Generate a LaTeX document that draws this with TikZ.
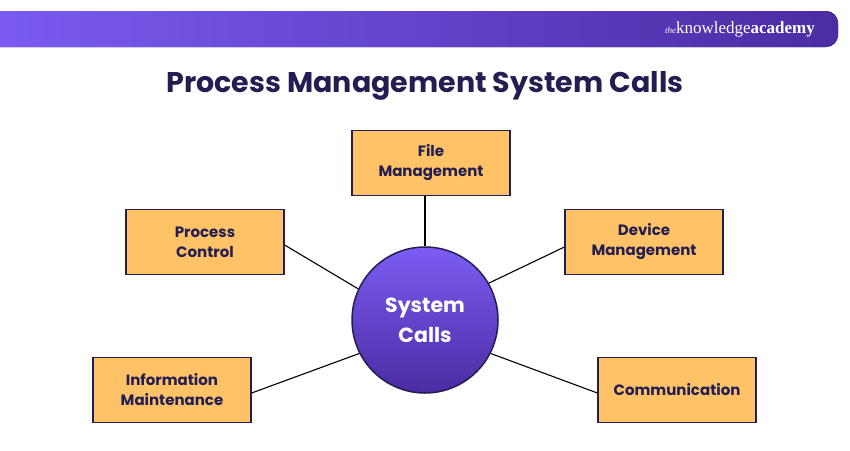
\documentclass[tikz,border=0pt]{standalone}
\usepackage{fontspec}
\setmainfont{Poppins}[BoldFont=* Bold]
\newfontfamily\logofont{Liberation Serif}
\definecolor{navy}{HTML}{231E52}
\definecolor{boxfill}{HTML}{FFC266}
\definecolor{pl}{HTML}{7C5CF2}
\definecolor{pd}{HTML}{4A2CA3}
\begin{document}
\begin{tikzpicture}[x=1pt,y=-1pt,
 box/.style={draw=navy,line width=1.2pt,fill=boxfill,minimum width=158pt,minimum height=65pt,align=center,font=\bfseries\fontsize{15}{20}\selectfont,text=navy},
 conn/.style={draw=black,line width=1.1pt}]
\useasboundingbox (0,0) rectangle (850,450);
\begin{scope}
\clip (0,0) rectangle (850,450);
\fill[left color=pl,right color=pd,rounded corners=12pt] (-20,11) rectangle (838,47);
\end{scope}
\node[text=white,anchor=east,inner sep=0pt] (logo) at (815,29) {\logofont{\itshape\fontsize{9}{9}\selectfont the}\fontsize{17}{17}\selectfont knowledge\textbf{academy}};
\node[text=navy,font=\bfseries\fontsize{28.5}{32}\selectfont] (title) at (425,86) {Process Management System Calls};
\node[circle,draw=navy,line width=1.5pt,minimum size=146pt,inner sep=0pt,top color=pl,bottom color=pd,text=white,align=center,font=\bfseries\fontsize{20.5}{30}\selectfont] (sc) at (425,320) {System\\Calls};
\node[box] (file) at (431,163) {File\\Management};
\node[box] (proc) at (205,242) {Process\\Control};
\node[box] (dev) at (644,242) {Device\\Management};
\node[box] (info) at (172,390) {Information\\Maintenance};
\node[box] (comm) at (677,390) {Communication};
\draw[conn] (file.south -| sc.north) -- (sc.north);
\draw[conn] (proc.east) ++(0,3) coordinate (p1) -- (sc.155);
\draw[conn] (dev.west) ++(0,5) coordinate (d1) -- (sc.30);
\draw[conn] (info.east) ++(0,3) coordinate (i1) -- (sc.207);
\draw[conn] (comm.west) ++(0,3) coordinate (c1) -- (sc.-27);
\end{tikzpicture}
\end{document}
